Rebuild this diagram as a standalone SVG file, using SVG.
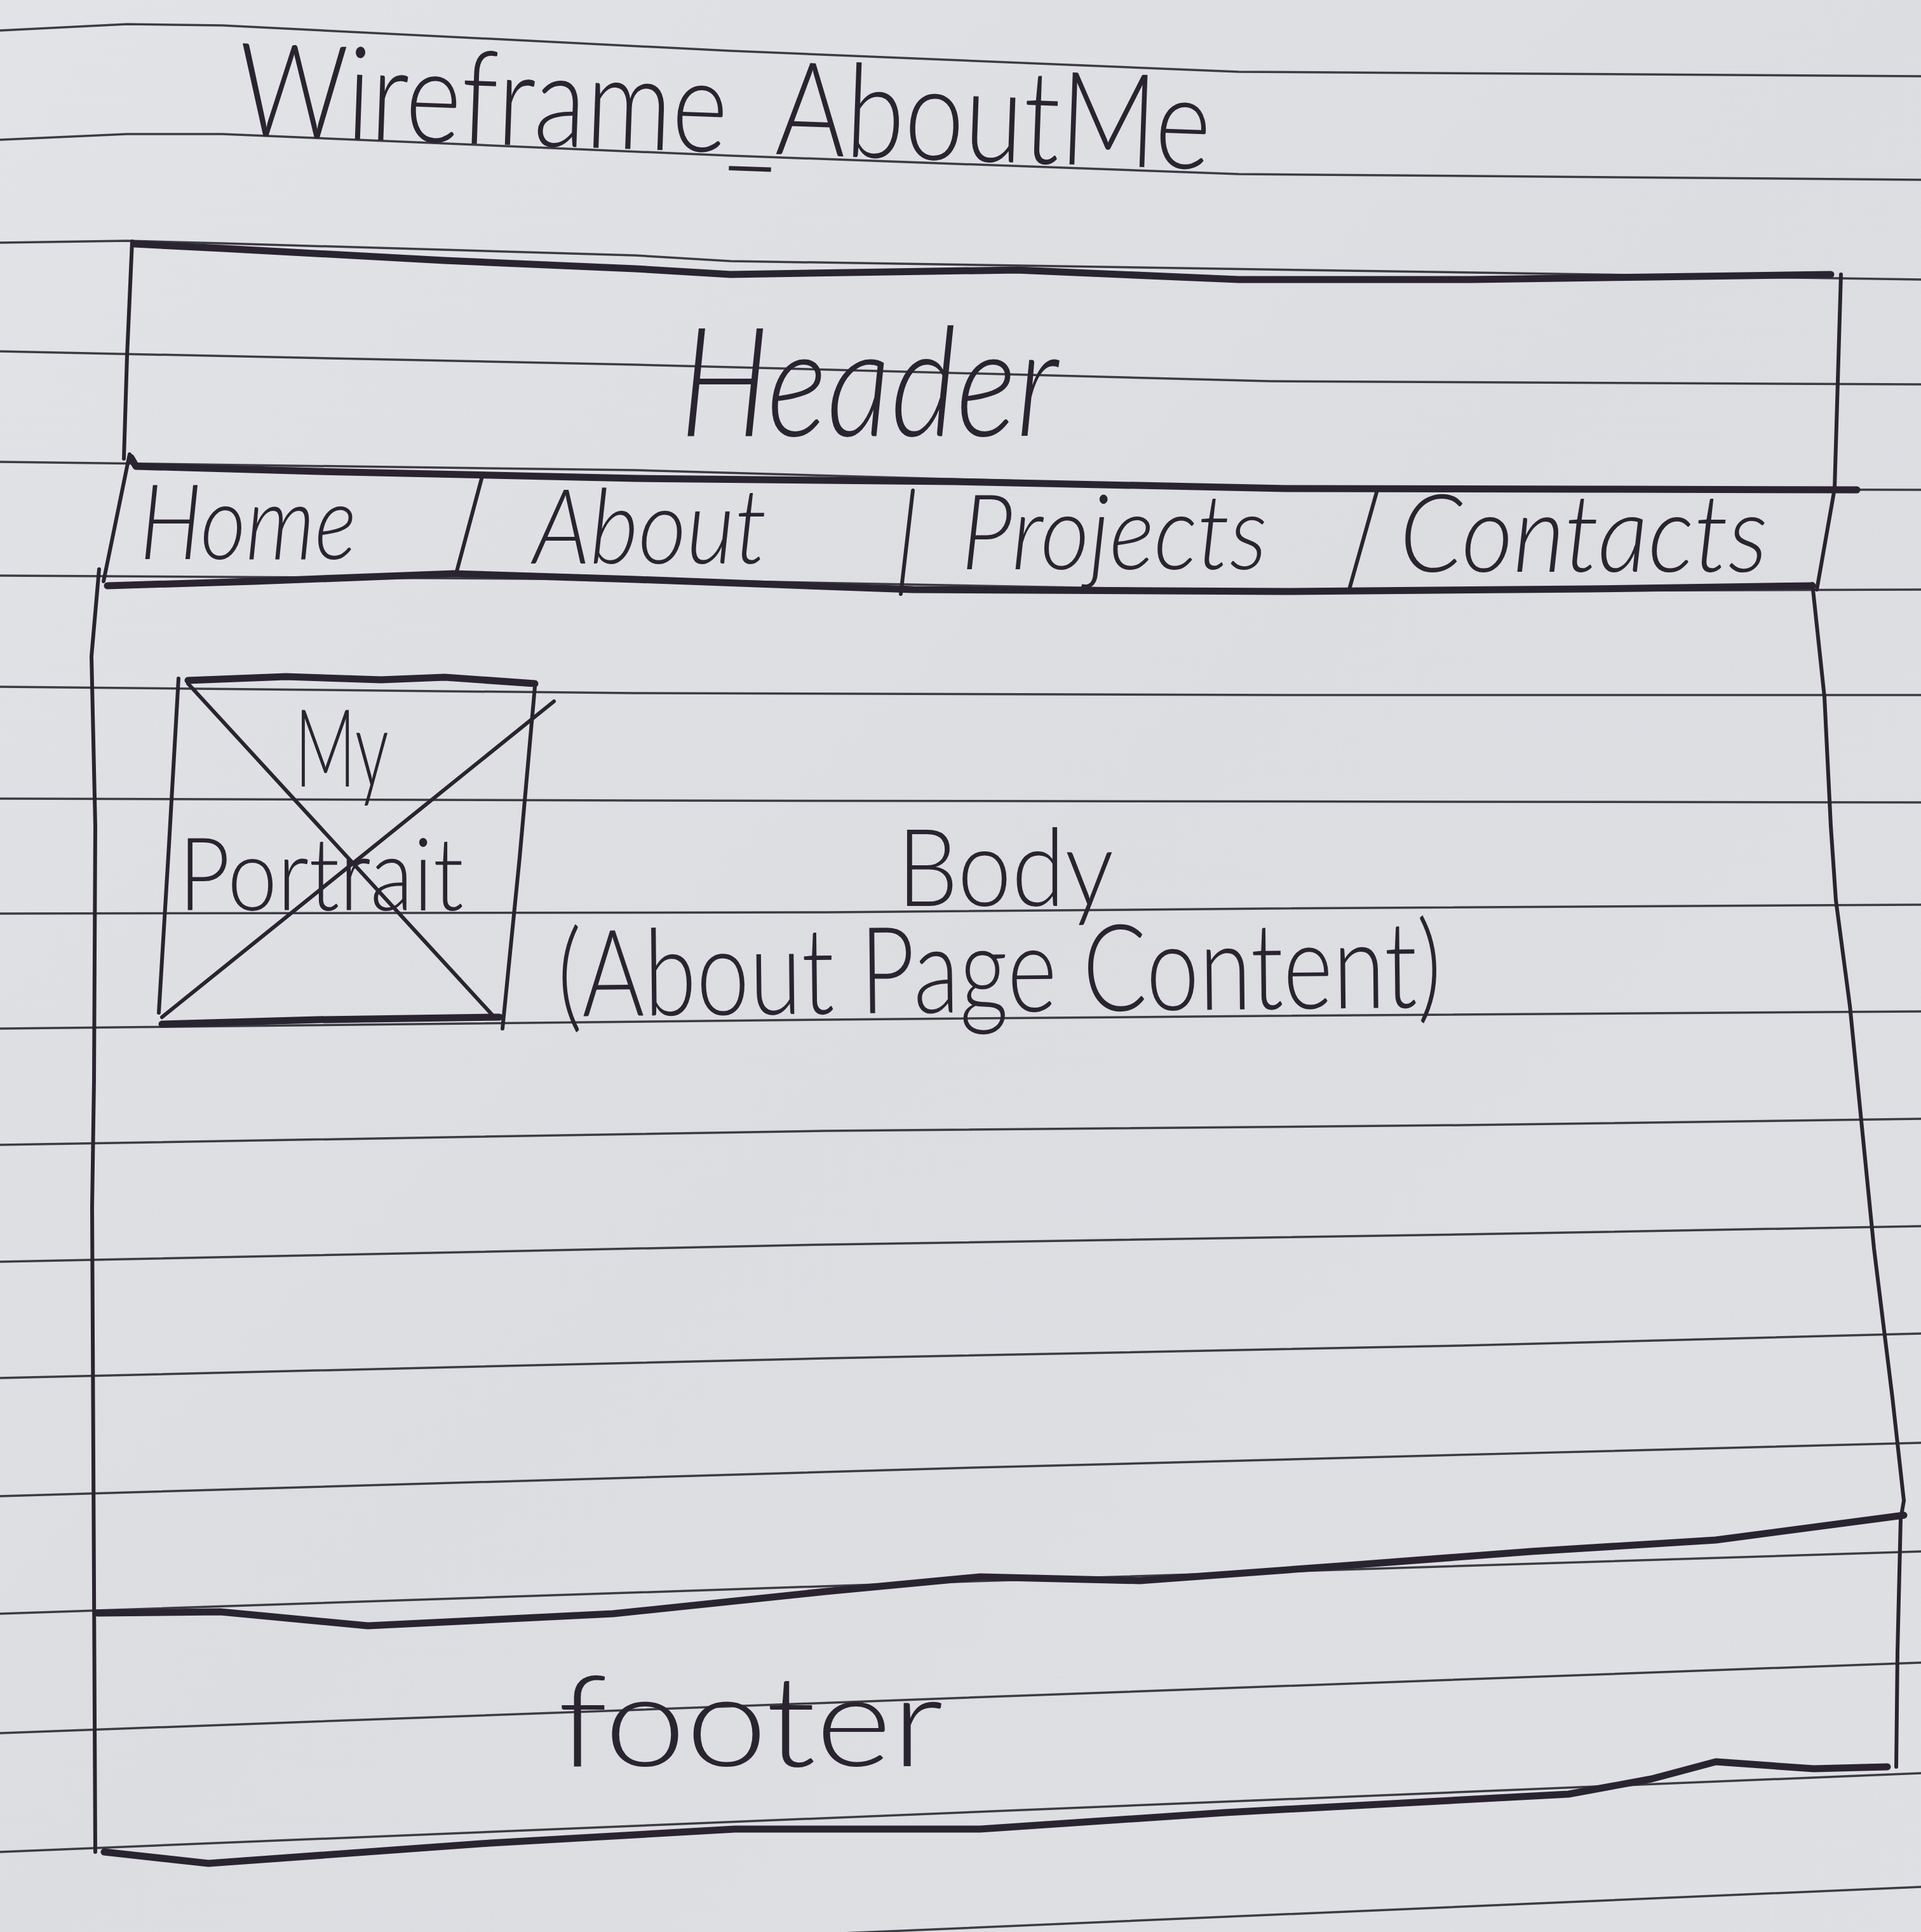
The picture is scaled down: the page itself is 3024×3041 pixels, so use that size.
<svg xmlns="http://www.w3.org/2000/svg" width="3024" height="3041" viewBox="0 0 3024 3041">
<defs>
<linearGradient id="paperBg" x1="0" y1="0" x2="1" y2="1">
<stop offset="0" stop-color="#e2e3e7"/>
<stop offset="0.5" stop-color="#dcdde1"/>
<stop offset="1" stop-color="#dfe0e3"/>
</linearGradient>
<style>
.rule{fill:none;stroke:#3c3b43;stroke-width:3.5;stroke-linecap:round;stroke-linejoin:round}
.ink{fill:none;stroke:#2a2430;stroke-width:6;stroke-linecap:round;stroke-linejoin:round}
.heavy{stroke-width:11}
.hand{font-family:Lato,'Liberation Sans',sans-serif;font-weight:300;fill:#2a2430}
.slant{font-style:italic}
</style>
</defs>
<rect x="0" y="0" width="3024" height="3041" fill="url(#paperBg)"/>
<g id="paper-rules">
<polyline class="rule" points="0,48 200,38 350,40 1150,80 1950,113 3024,120"/>
<polyline class="rule" points="0,220 200,211 350,211 1150,245 1950,274 3024,283"/>
<polyline class="rule" points="0,382 200,379 350,383 1000,402 1150,411 3024,440"/>
<polyline class="rule" points="0,553 1000,574 2000,600 3024,605"/>
<polyline class="rule" points="0,727 1000,740 2024,769 3024,771"/>
<polyline class="rule" points="0,906 1000,912 2024,931 3024,928"/>
<polyline class="rule" points="0,1081 1000,1091 2024,1094 3024,1094"/>
<polyline class="rule" points="0,1257 1000,1260 3024,1263"/>
<polyline class="rule" points="0,1438 1300,1436 2000,1430 3024,1424"/>
<polyline class="rule" points="0,1619 1300,1605 2000,1599 3024,1592"/>
<polyline class="rule" points="0,1802 1300,1780 2300,1771 3024,1761"/>
<polyline class="rule" points="0,1986 1300,1959 2300,1943 3024,1930"/>
<polyline class="rule" points="0,2169 1300,2138 2300,2118 3024,2099"/>
<polyline class="rule" points="0,2355 1500,2311 3024,2271"/>
<polyline class="rule" points="0,2540 1500,2490 3024,2442"/>
<polyline class="rule" points="0,2728 3024,2617"/>
<polyline class="rule" points="0,2915 3024,2791"/>
<polyline class="rule" points="0,3100 3024,2970"/>
</g>
<g id="title">
<text class="hand" x="373" y="213" font-size="205" textLength="1532" lengthAdjust="spacingAndGlyphs" transform="rotate(2 373 213)">Wireframe_AboutMe</text>
</g>
<g id="header">
<polyline class="ink heavy" points="212,384 350,391 700,410 1000,423 1150,432 1400,428 1600,425 1950,440 2315,440 2600,436 2882,432"/>
<polyline class="ink" points="208,380 200,560 195,722"/>
<polyline class="ink" points="2898,432 2893,600 2888,769"/>
<text class="hand slant" x="1070" y="686" font-size="240" textLength="596" lengthAdjust="spacingAndGlyphs">Header</text>
</g>
<g id="nav">
<polyline class="ink heavy" points="206,720 214,734 500,742 1000,753 1500,758 2024,769 2500,770 2923,771"/>
<polyline class="ink" points="204,715 163,915"/>
<polyline class="ink heavy" points="169,922 400,915 714,903 1000,912 1437,928 2024,931 2500,927 2853,922"/>
<polyline class="ink" points="2888,769 2860,928"/>
<polyline class="ink" points="759,750 718,903"/>
<polyline class="ink" points="1437,772 1418,935"/>
<polyline class="ink" points="2167,775 2123,931"/>
<g id="nav-home"><text class="hand slant" x="220" y="880" font-size="165" textLength="341" lengthAdjust="spacingAndGlyphs">Home</text></g>
<g id="nav-about"><text class="hand slant" x="839" y="887" font-size="165" textLength="368" lengthAdjust="spacingAndGlyphs">About</text></g>
<g id="nav-projects"><text class="hand slant" x="1513" y="896" font-size="165" textLength="482" lengthAdjust="spacingAndGlyphs">Projects</text></g>
<g id="nav-contacts"><text class="hand slant" x="2203" y="900" font-size="170" textLength="580" lengthAdjust="spacingAndGlyphs">Contacts</text></g>
</g>
<g id="body">
<polyline class="ink" points="156,896 144,1033 150,1300 148,1700 145,1900 148,2500 150,2915"/>
<polyline class="ink" points="2853,919 2872,1097 2882,1300 2890,1417 2912,1583 2931,1774 2950,1965 2979,2200 2997,2362"/>
<polyline class="ink heavy" points="154,2539 347,2537 579,2559 965,2540 1300,2505 1543,2482 1794,2488 2122,2464 2411,2442 2701,2424 2997,2385"/>
<text class="hand" x="1412" y="1426" font-size="170" textLength="341" lengthAdjust="spacingAndGlyphs">Body</text>
<text class="hand" x="878" y="1600" font-size="190" textLength="1392" lengthAdjust="spacingAndGlyphs" transform="rotate(-0.6 878 1600)">(About Page Content)</text>
</g>
<g id="portrait">
<polyline class="ink heavy" points="296,1071 450,1065 600,1070 700,1066 842,1076"/>
<polyline class="ink" points="281,1068 266,1330 250,1594"/>
<polyline class="ink" points="842,1081 818,1350 791,1619"/>
<polyline class="ink heavy" points="255,1612 500,1605 786,1601"/>
<polyline class="ink" points="296,1076 780,1603"/>
<polyline class="ink" points="872,1104 255,1601"/>
<text class="hand" x="464" y="1238" font-size="170" textLength="148" lengthAdjust="spacingAndGlyphs">My</text>
<text class="hand" x="281" y="1433" font-size="160" textLength="449" lengthAdjust="spacingAndGlyphs">Portrait</text>
</g>
<g id="footer">
<polyline class="ink" points="2997,2362 2992,2391 2987,2600 2985,2781"/>
<polyline class="ink heavy" points="164,2915 328,2933 772,2901 1157,2879 1543,2879 1929,2853 2469,2824 2600,2800 2701,2773 2855,2784 2971,2781"/>
<text class="hand" x="878" y="2780" font-size="200" textLength="607" lengthAdjust="spacingAndGlyphs">footer</text>
</g>
</svg>
